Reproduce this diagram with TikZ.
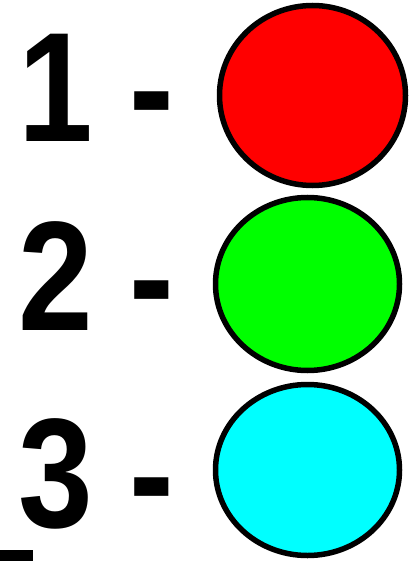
\documentclass[tikz,border=0pt]{standalone}
\usepackage{fontspec}
\setmainfont{Liberation Sans}
\usetikzlibrary{shapes.geometric}
\definecolor{lampred}{RGB}{255,0,0}
\definecolor{lampgreen}{RGB}{0,255,0}
\definecolor{lampcyan}{RGB}{0,255,255}

\begin{document}
\begin{tikzpicture}[
  x=1pt,y=-1pt,
  lamp/.style={ellipse, draw=black, line width=5.5pt, inner sep=0pt},
  numlabel/.style={anchor=base west, inner sep=0pt, text=black,
                   font=\fontsize{156}{156}\selectfont\bfseries}
]
  \useasboundingbox (0,0) rectangle (410,561);

  \node[lamp, fill=lampred, minimum width=186pt, minimum height=180pt] (red) at (312.5,95.5) {};
  \node[lamp, fill=lampgreen, minimum width=184pt, minimum height=173pt] (green) at (307.5,284) {};
  \node[lamp, fill=lampcyan, minimum width=184pt, minimum height=171pt] (cyan) at (307.5,470) {};

  \node[numlabel] (lbl1) at (18,142) {\scalebox{0.86}[1]{1 -}};
  \node[numlabel] (lbl2) at (18,330) {\scalebox{0.86}[1]{2 -}};
  \node[numlabel] (lbl3) at (18,527) {\scalebox{0.86}[1]{3 -}};

  % cut-off mark in the corner
  \fill[black] (0,550) rectangle (33,561);
\end{tikzpicture}
\end{document}
